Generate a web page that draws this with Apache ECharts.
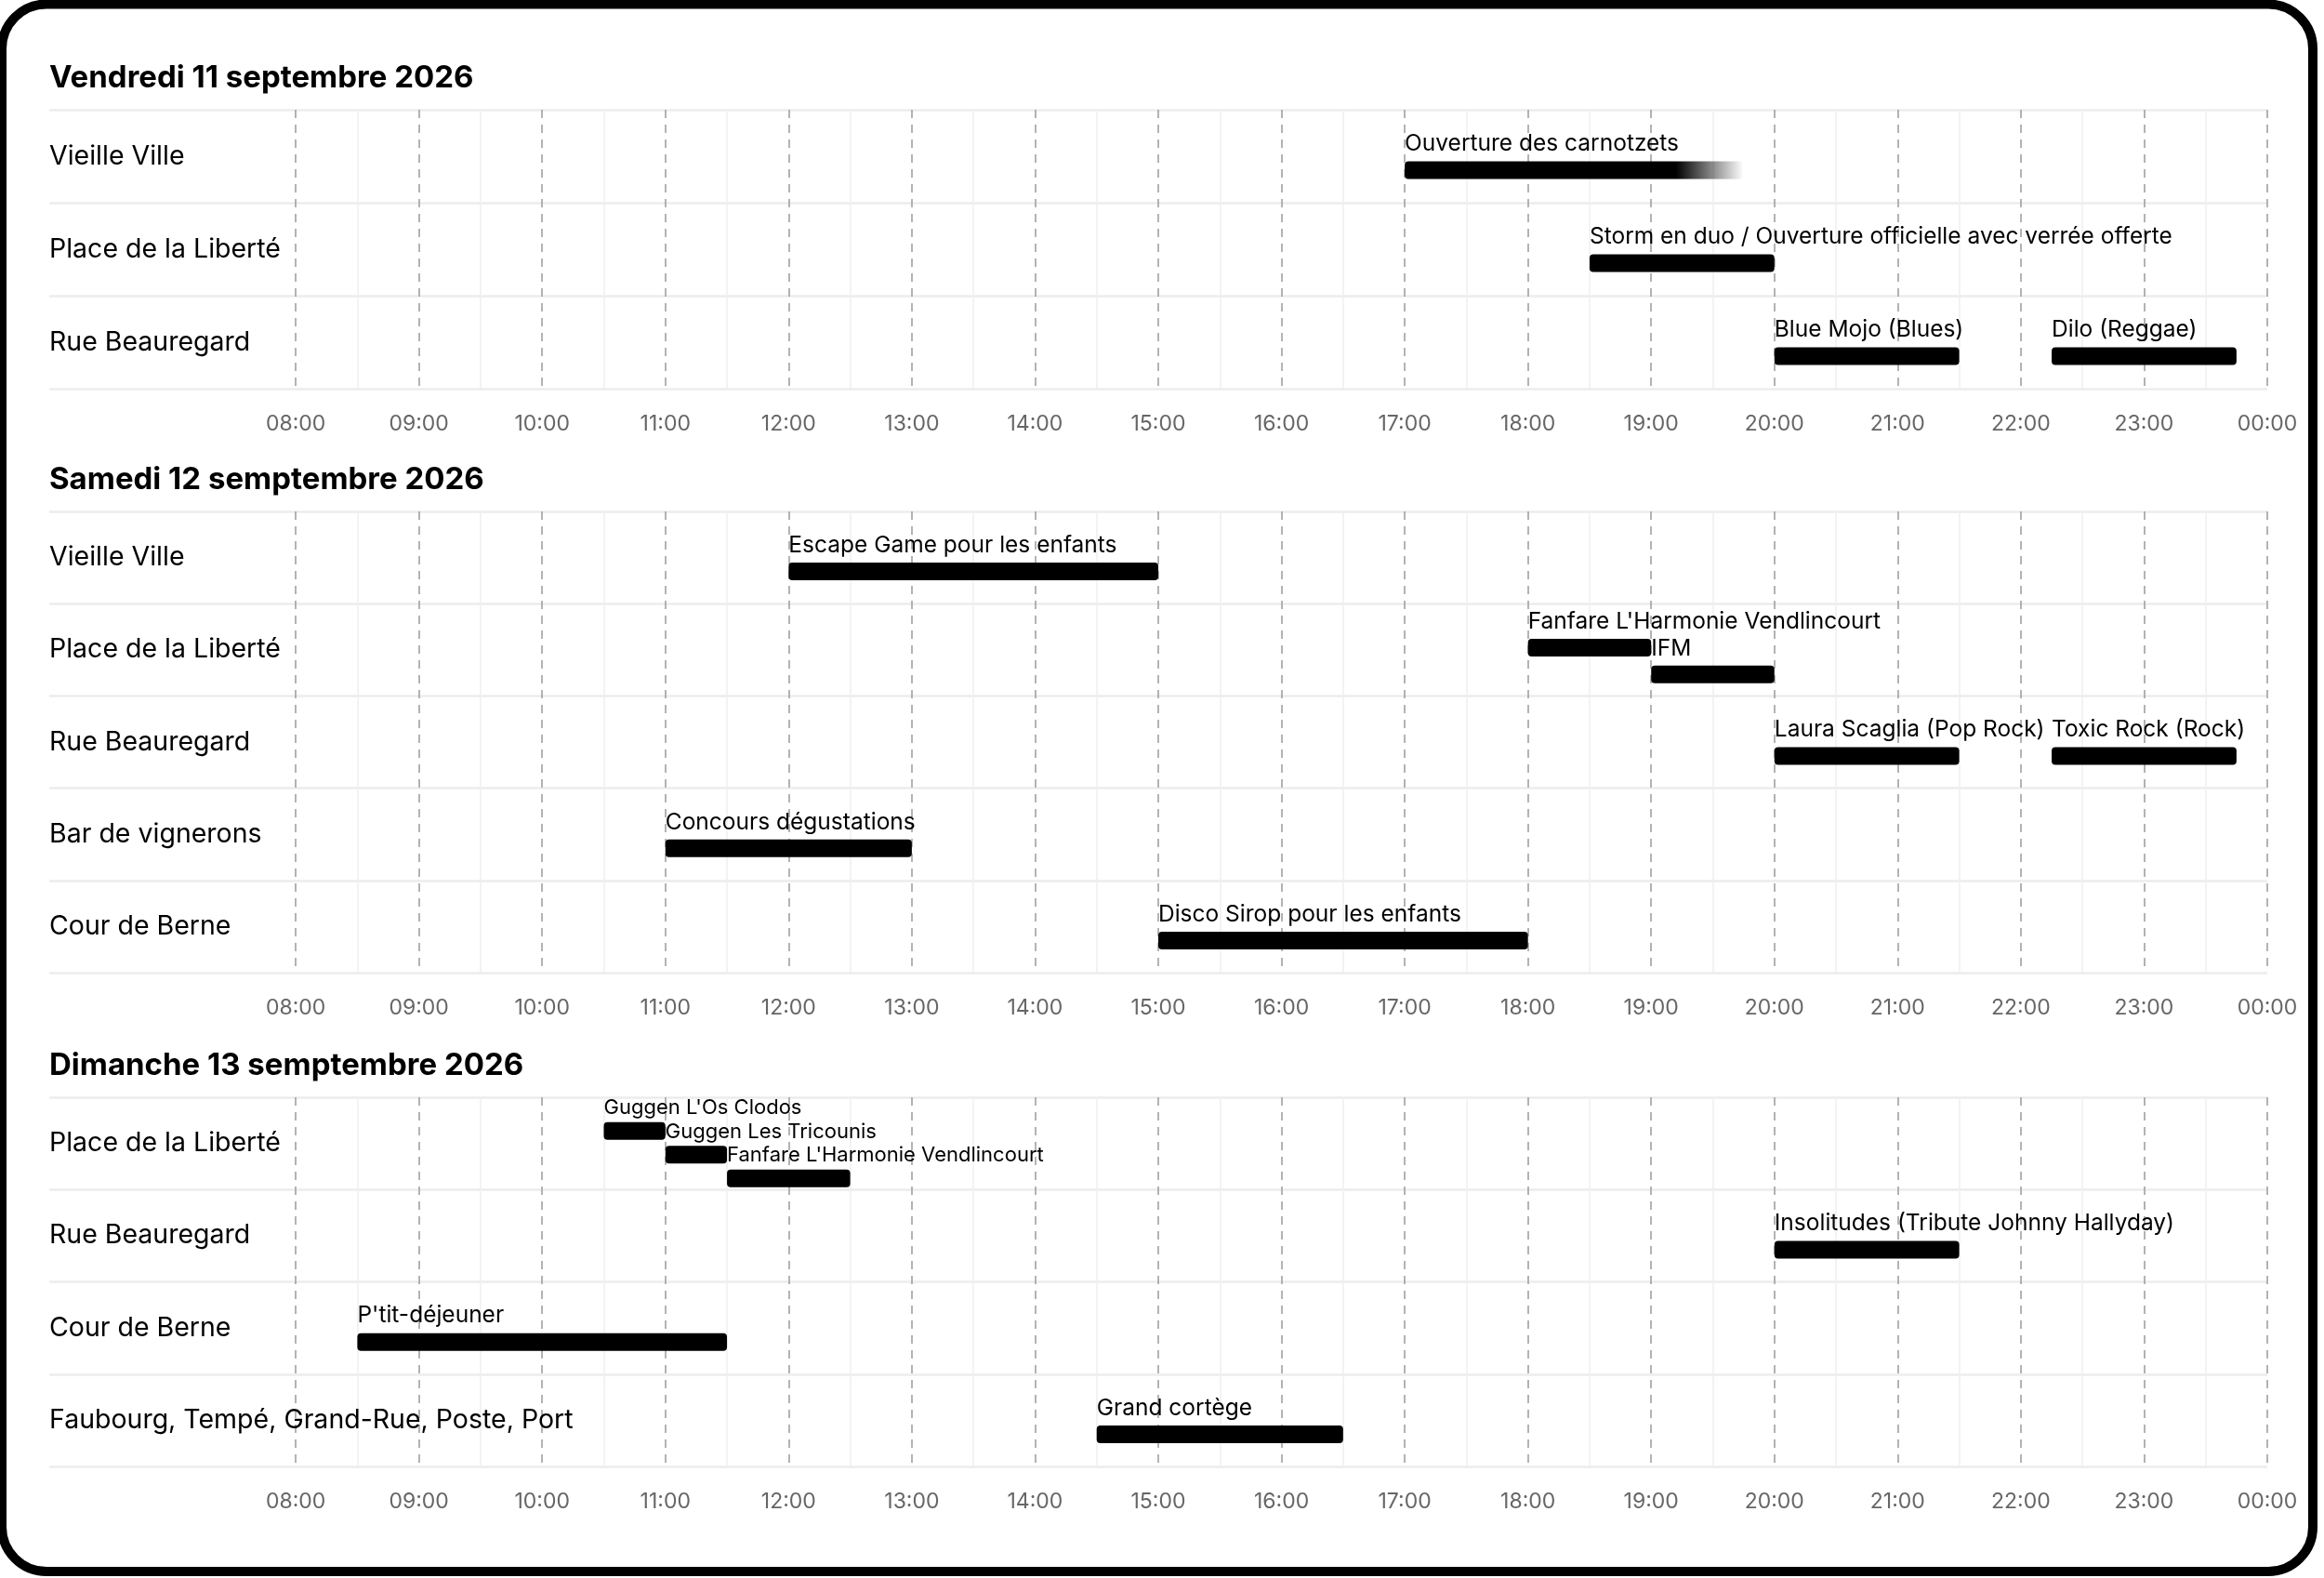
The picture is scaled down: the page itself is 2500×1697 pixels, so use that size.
<!DOCTYPE html>
<html>
<head>
<meta charset="utf-8">
<script src="https://cdn.jsdelivr.net/npm/echarts@6/dist/echarts.min.js"></script>
<style>
  html, body { margin: 0; padding: 0; background: #fff; }
  #chart { width: 2500px; height: 1697px; }
</style>
</head>
<body>
<div id="chart"></div>
<script>
// titres des journées
const dayTitles = ['Vendredi 11 septembre 2026', 'Samedi 12 semptembre 2026', 'Dimanche 13 semptembre 2026'];

// heures de l'axe (08:00 -> 00:00)
const hourMin = 8;
const hourMax = 24;

// vendredi
const fridayVenues = ['Vieille Ville', 'Place de la Liberté', 'Rue Beauregard'];
const fridayNames = ['Ouverture des carnotzets', 'Storm en duo / Ouverture officielle avec verrée offerte', 'Blue Mojo (Blues)', 'Dilo (Reggae)'];
const fridayVenue = [0, 1, 2, 2];
const fridayStart = [17, 18.5, 20, 22.25];
const fridayEnd = [19.75, 20, 21.5, 23.75];
const fridayOpenEnd = [true, false, false, false];

// samedi
const saturdayVenues = ['Vieille Ville', 'Place de la Liberté', 'Rue Beauregard', 'Bar de vignerons', 'Cour de Berne'];
const saturdayNames = ['Escape Game pour les enfants', "Fanfare L'Harmonie Vendlincourt", 'IFM', 'Laura Scaglia (Pop Rock)', 'Toxic Rock (Rock)', 'Concours dégustations', 'Disco Sirop pour les enfants'];
const saturdayVenue = [0, 1, 1, 2, 2, 3, 4];
const saturdayStart = [12, 18, 19, 20, 22.25, 11, 15];
const saturdayEnd = [15, 19, 20, 21.5, 23.75, 13, 18];
const saturdayOpenEnd = [false, false, false, false, false, false, false];

// dimanche
const sundayVenues = ['Place de la Liberté', 'Rue Beauregard', 'Cour de Berne', 'Faubourg, Tempé, Grand-Rue, Poste, Port'];
const sundayNames = ["Guggen L'Os Clodos", 'Guggen Les Tricounis', "Fanfare L'Harmonie Vendlincourt", 'Insolitudes (Tribute Johnny Hallyday)', "P'tit-déjeuner", 'Grand cortège'];
const sundayVenue = [0, 0, 0, 1, 2, 3];
const sundayStart = [10.5, 11, 11.5, 20, 8.5, 14.5];
const sundayEnd = [11, 11.5, 12.5, 21.5, 11.5, 16.5];
const sundayOpenEnd = [false, false, false, false, false, false];

const days = [
  { venues: fridayVenues, names: fridayNames, venue: fridayVenue, start: fridayStart, end: fridayEnd, open: fridayOpenEnd },
  { venues: saturdayVenues, names: saturdayNames, venue: saturdayVenue, start: saturdayStart, end: saturdayEnd, open: saturdayOpenEnd },
  { venues: sundayVenues, names: sundayNames, venue: sundayVenue, start: sundayStart, end: sundayEnd, open: sundayOpenEnd }
];

// mise en page (px)
const FONT = 'Inter';
const panelTop = [118, 550, 1180];
const panelHeight = [300, 496, 397];
const titleTop = [68, 500, 1130];
const gridLeft = 53;
const gridRight = 61;
const hourWidth = (2500 - gridLeft - gridRight) / 18; // axe caché de 6h a 24h
const timeLeft = gridLeft + 2 * hourWidth;

// un évènement passe sur la ligne suivante s'il commence avant la fin du précédent
function computeLanes(day) {
  const lane = [];
  const count = {};
  const order = day.start.map((s, i) => i).sort((a, b) => day.venue[a] - day.venue[b] || day.start[a] - day.start[b]);
  let prev = -1;
  order.forEach(i => {
    if (prev >= 0 && day.venue[prev] === day.venue[i] && day.start[i] <= day.end[prev]) lane[i] = lane[prev] + 1;
    else lane[i] = 0;
    count[day.venue[i]] = Math.max(count[day.venue[i]] || 0, lane[i] + 1);
    prev = i;
  });
  return day.start.map((s, i) => [s, day.venue[i], day.end[i], lane[i], count[day.venue[i]], day.open[i] ? 1 : 0]);
}

function pad(h) {
  h = h % 24;
  return (h < 10 ? '0' : '') + h + ':00';
}

function makeRender(day) {
  return function (params, api) {
    const s = api.coord([api.value(0), api.value(1)]);
    const e = api.coord([api.value(2), api.value(1)]);
    const lane = api.value(3);
    const n = api.value(4);
    const gap = n >= 3 ? 25.5 : 28.7;
    const base = n === 1 ? 15 : 12 - (n - 1) * gap / 2;
    const cy = s[1] + base + lane * gap;
    const barH = 19;
    const fill = api.value(5)
      ? new echarts.graphic.LinearGradient(0, 0, 1, 0, [
          { offset: 0, color: '#000' },
          { offset: 0.8, color: '#000' },
          { offset: 1, color: 'rgba(0,0,0,0)' }
        ])
      : '#000';
    return {
      type: 'group',
      children: [
        {
          type: 'rect',
          shape: { x: s[0], y: cy - barH / 2, width: e[0] - s[0], height: barH, r: 4 },
          style: { fill: fill }
        },
        {
          type: 'text',
          x: s[0],
          y: cy - barH / 2 - (n >= 3 ? 4 : 6),
          style: {
            text: day.names[params.dataIndex],
            fill: '#000',
            fontFamily: FONT,
            fontSize: n >= 3 ? 22 : 24.5,
            align: 'left',
            verticalAlign: 'bottom'
          }
        }
      ]
    };
  };
}

const grid = [], xAxis = [], yAxis = [], series = [], title = [];
days.forEach((day, p) => {
  title.push({
    text: dayTitles[p],
    left: gridLeft,
    top: titleTop[p],
    padding: 0,
    textStyle: { fontSize: 33, fontWeight: 700, color: '#000', fontFamily: FONT }
  });
  // grille des lieux (lignes horizontales + noms)
  grid.push({ left: gridLeft, right: gridRight, top: panelTop[p], height: panelHeight[p] });
  xAxis.push({ gridIndex: 2 * p, type: 'value', min: 6, max: 24, show: false });
  yAxis.push({
    gridIndex: 2 * p,
    type: 'category',
    data: day.venues,
    inverse: true,
    axisLine: { show: false },
    axisTick: { show: false },
    axisLabel: { inside: true, margin: 0, interval: 0, color: '#000', fontSize: 28.5, fontFamily: FONT },
    splitLine: { show: true, interval: 0, lineStyle: { color: '#ececec', width: 2.5 } }
  });
  // grille horaire
  grid.push({ left: timeLeft, right: gridRight, top: panelTop[p], height: panelHeight[p] });
  xAxis.push({
    gridIndex: 2 * p + 1,
    type: 'value',
    min: hourMin,
    max: hourMax,
    interval: 1,
    axisLine: { show: false },
    axisTick: { show: false },
    axisLabel: { formatter: pad, color: '#666', fontSize: 23, margin: 27, fontFamily: FONT },
    splitLine: { show: true, lineStyle: { color: '#9a9a9a', width: 1.5, type: [9, 7] } },
    minorTick: { show: false, splitNumber: 2 },
    minorSplitLine: { show: true, lineStyle: { color: '#efefef', width: 1.5 } }
  });
  yAxis.push({ gridIndex: 2 * p + 1, type: 'category', data: day.venues, inverse: true, show: false });
  series.push({
    type: 'custom',
    xAxisIndex: 2 * p + 1,
    yAxisIndex: 2 * p + 1,
    clip: false,
    renderItem: makeRender(day),
    encode: { x: [0, 2], y: 1 },
    data: computeLanes(day)
  });
});

const chart = echarts.init(document.getElementById('chart'), null, { renderer: 'canvas' });
chart.setOption({
  backgroundColor: '#fff',
  animation: false,
  title: title,
  grid: grid,
  xAxis: xAxis,
  yAxis: yAxis,
  series: series,
  graphic: [{
    type: 'rect',
    z: 100,
    shape: { x: 2, y: 4.5, width: 2486, height: 1685.5, r: 48 },
    style: { fill: 'none', stroke: '#000', lineWidth: 10 }
  }]
});
</script>
</body>
</html>
